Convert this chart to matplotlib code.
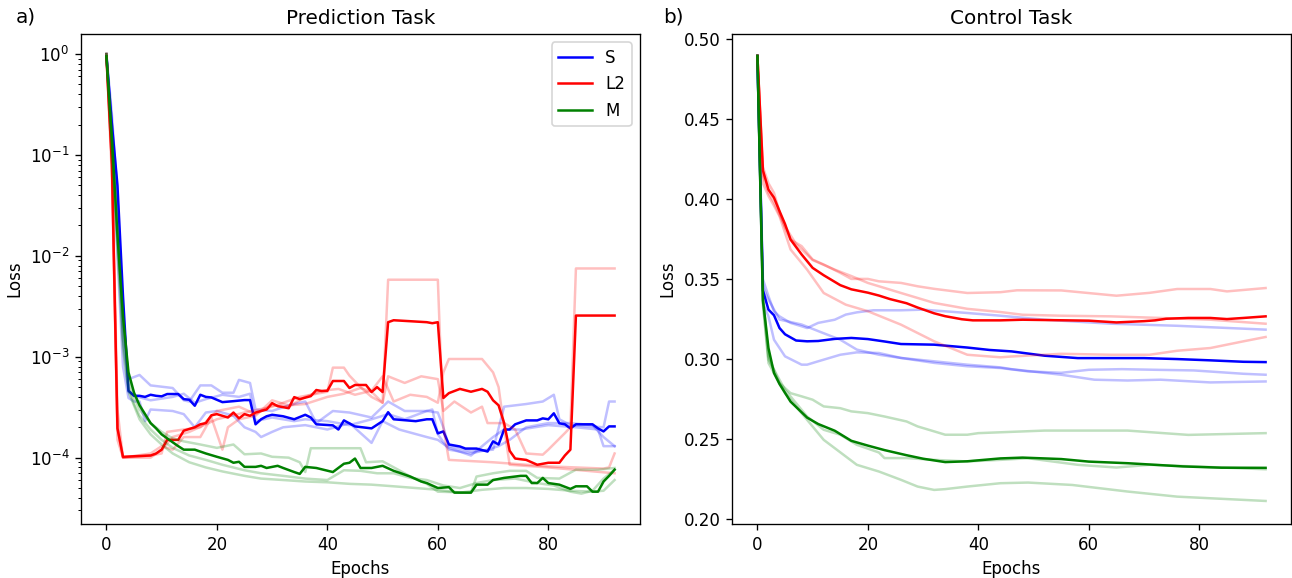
import matplotlib
matplotlib.use("Agg")
import matplotlib.pyplot as plt

# ---- a) Prediction task (log loss), (epoch, loss) pairs ----
pred_S_mean = [(0, 0.95), (1, 0.2), (2, 0.05), (3, 4e-3), (4, 4.6e-4), (5, 4.1e-4), (6, 4.1e-4),
               (7, 4.0e-4), (8, 4.2e-4), (9, 4.1e-4), (10, 4.05e-4), (11, 4.27e-4), (13, 4.27e-4),
               (14, 3.8e-4), (15, 3.75e-4), (16, 3.27e-4), (17, 4.2e-4), (18, 4.0e-4), (19, 3.95e-4),
               (21, 3.55e-4), (23, 3.63e-4), (25, 3.72e-4), (26, 3.72e-4), (27, 2.14e-4), (28, 2.4e-4),
               (29, 2.57e-4), (30, 2.66e-4), (32, 2.57e-4), (34, 2.4e-4), (36, 2.66e-4), (37, 2.5e-4),
               (38, 2.14e-4), (41, 2.09e-4), (42, 1.9e-4), (43, 2.34e-4), (45, 2.04e-4), (48, 1.95e-4),
               (50, 2.3e-4), (51, 2.82e-4), (52, 2.4e-4), (54, 2.35e-4), (56, 2.3e-4), (58, 2.4e-4),
               (59, 2.4e-4), (60, 1.74e-4), (61, 1.82e-4), (62, 1.35e-4), (64, 1.29e-4), (65, 1.23e-4),
               (67, 1.23e-4), (69, 1.15e-4), (70, 1.45e-4), (71, 1.35e-4), (72, 1.9e-4), (73, 1.9e-4),
               (74, 2.14e-4), (76, 2.34e-4), (78, 2.34e-4), (79, 2.45e-4), (80, 2.4e-4), (81, 2.75e-4),
               (82, 2.19e-4), (83, 2.14e-4), (84, 1.95e-4), (85, 2.14e-4), (88, 2.14e-4), (89, 1.95e-4),
               (90, 1.82e-4), (91, 2.04e-4), (92, 2.04e-4)]
pred_S_runs = [
    [(0, 1.0), (1, 0.25), (2, 0.04), (3, 2e-3), (4, 6e-4), (6, 6.6e-4), (8, 5.2e-4), (12, 4.9e-4),
     (14, 3.7e-4), (15, 3.6e-4), (17, 5.2e-4), (19, 5.2e-4), (21, 4.4e-4), (23, 4.4e-4), (24, 5.9e-4),
     (26, 5.5e-4), (27, 3.0e-4), (30, 2.9e-4), (33, 3.3e-4), (36, 3.6e-4), (38, 2.2e-4), (41, 2.9e-4),
     (44, 2.8e-4), (48, 2.5e-4), (51, 3.6e-4), (54, 2.9e-4), (58, 2.9e-4), (60, 2.8e-4), (61, 2.0e-4),
     (62, 1.3e-4), (66, 1.15e-4), (70, 1.2e-4), (72, 3.2e-4), (76, 3.4e-4), (79, 3.6e-4), (81, 4.2e-4),
     (82, 2.4e-4), (84, 2.1e-4), (90, 2.0e-4), (91, 3.6e-4), (92, 3.6e-4)],
    [(0, 1.0), (1, 0.15), (2, 0.01), (3, 8e-4), (4, 3.9e-4), (5, 3.6e-4), (6, 3.6e-4), (7, 2.3e-4),
     (8, 3.0e-4), (12, 2.9e-4), (14, 2.7e-4), (16, 2.0e-4), (18, 2.8e-4), (20, 2.9e-4), (23, 2.6e-4),
     (25, 2.0e-4), (27, 1.8e-4), (28, 1.6e-4), (30, 1.8e-4), (32, 2.0e-4), (36, 2.1e-4), (40, 1.9e-4),
     (44, 2.2e-4), (48, 1.4e-4), (50, 2.3e-4), (53, 1.9e-4), (58, 1.6e-4), (60, 1.5e-4), (62, 1.25e-4),
     (66, 1.05e-4), (70, 1.6e-4), (72, 1.9e-4), (75, 1.9e-4), (80, 2.1e-4), (85, 2.0e-4), (89, 1.9e-4),
     (90, 1.3e-4), (92, 1.3e-4)],
    [(0, 1.0), (1, 0.2), (2, 0.03), (3, 1.5e-3), (4, 4.5e-4), (5, 4.1e-4), (8, 3.7e-4), (12, 4.0e-4),
     (14, 4.3e-4), (16, 3.5e-4), (18, 3.8e-4), (21, 4.2e-4), (24, 4.0e-4), (26, 4.3e-4), (27, 2.3e-4),
     (30, 2.5e-4), (34, 2.3e-4), (36, 2.4e-4), (40, 2.3e-4), (44, 2.1e-4), (48, 2.4e-4), (51, 2.7e-4),
     (54, 2.4e-4), (58, 2.9e-4), (59, 3.0e-4), (60, 1.7e-4), (62, 1.2e-4), (66, 1.1e-4), (69, 1.2e-4),
     (71, 1.3e-4), (73, 1.5e-4), (76, 2.0e-4), (80, 2.2e-4), (84, 2.2e-4), (88, 2.1e-4), (90, 1.6e-4),
     (92, 1.3e-4)],
]

pred_L2_mean = [(0, 0.95), (1, 0.08), (2, 1.95e-4), (3, 1.02e-4), (8, 1.05e-4), (9, 1.1e-4), (10, 1.2e-4),
                (11, 1.5e-4), (13, 1.5e-4), (14, 1.85e-4), (16, 2.0e-4), (17, 2.14e-4), (18, 2.2e-4),
                (19, 2.63e-4), (20, 2.7e-4), (22, 2.5e-4), (23, 2.8e-4), (24, 2.45e-4), (25, 2.7e-4),
                (26, 2.6e-4), (27, 2.8e-4), (29, 3.0e-4), (30, 3.47e-4), (31, 3.24e-4), (33, 3.09e-4),
                (34, 3.98e-4), (35, 3.8e-4), (37, 4.07e-4), (38, 4.68e-4), (39, 4.57e-4), (40, 4.6e-4),
                (41, 5.75e-4), (43, 5.75e-4), (44, 4.9e-4), (45, 5.25e-4), (47, 5.25e-4), (48, 4.47e-4),
                (49, 5.0e-4), (50, 4.47e-4), (51, 2.2e-3), (52, 2.3e-3), (55, 2.25e-3), (58, 2.2e-3),
                (59, 2.15e-3), (60, 2.2e-3), (61, 3.9e-4), (62, 4.36e-4), (64, 4.8e-4), (66, 4.5e-4),
                (68, 4.8e-4), (69, 4.5e-4), (70, 3.7e-4), (71, 3.3e-4), (72, 2.2e-4), (73, 1.17e-4),
                (74, 9.8e-5), (76, 9.5e-5), (78, 8.5e-5), (80, 8.9e-5), (82, 8.9e-5), (83, 1.05e-4),
                (84, 1.2e-4), (85, 2.56e-3), (92, 2.56e-3)]
pred_L2_runs = [
    [(0, 1.0), (1, 0.1), (2, 3e-4), (3, 1.0e-4), (8, 1.0e-4), (10, 1.2e-4), (12, 1.6e-4), (15, 1.8e-4),
     (20, 2.4e-4), (25, 2.8e-4), (30, 3.2e-4), (35, 4.0e-4), (40, 4.5e-4), (41, 7.8e-4), (43, 7.8e-4),
     (44, 6.5e-4), (46, 5e-4), (48, 4e-4), (50, 3.5e-4), (51, 5.8e-3), (60, 5.8e-3), (61, 2e-4),
     (62, 9.5e-5), (70, 9e-5), (80, 8.2e-5), (90, 7.8e-5), (91, 8e-5), (92, 1.1e-4)],
    [(0, 1.0), (1, 0.06), (2, 2e-4), (3, 1.0e-4), (8, 1.05e-4), (10, 1.1e-4), (11, 1.8e-4), (14, 1.9e-4),
     (17, 2.0e-4), (20, 2.9e-4), (24, 3.2e-4), (27, 2.7e-4), (30, 3.3e-4), (33, 3.2e-4), (36, 4.0e-4),
     (39, 4.6e-4), (42, 4.8e-4), (45, 4.2e-4), (48, 4.6e-4), (50, 6.4e-4), (52, 3.6e-4), (55, 4.2e-4),
     (58, 4.0e-4), (60, 3.5e-4), (61, 7e-4), (62, 9.5e-4), (68, 9.5e-4), (70, 7e-4), (71, 5e-4),
     (72, 2e-4), (73, 8.5e-5), (80, 8e-5), (92, 7e-5)],
    [(0, 1.0), (1, 0.08), (2, 1.5e-4), (3, 1.0e-4), (8, 1.1e-4), (10, 1.3e-4), (12, 1.2e-4), (14, 1.6e-4),
     (17, 1.6e-4), (19, 2.5e-4), (21, 1.2e-4), (22, 2.0e-4), (24, 2.4e-4), (27, 2.6e-4), (30, 3.7e-4),
     (33, 3.3e-4), (36, 3.4e-4), (40, 4.0e-4), (43, 4.3e-4), (46, 4.9e-4), (48, 4.5e-4), (50, 3.5e-4),
     (51, 6.4e-4), (54, 5.5e-4), (57, 6.4e-4), (60, 6.0e-4), (61, 2.9e-4), (63, 3.6e-4), (66, 2.8e-4),
     (68, 3.2e-4), (69, 2.2e-4), (72, 2.2e-4), (74, 1.9e-4), (76, 1.1e-4), (79, 1.07e-4), (80, 1.2e-4),
     (83, 1.75e-4), (84, 2.0e-4), (85, 7.5e-3), (92, 7.5e-3)],
]

pred_M_mean = [(0, 0.95), (1, 0.145), (2, 0.016), (3, 2.5e-3), (4, 7e-4), (5, 4.4e-4), (6, 3.3e-4),
               (7, 2.7e-4), (8, 2.2e-4), (9, 1.95e-4), (10, 1.7e-4), (12, 1.42e-4), (13, 1.3e-4),
               (14, 1.2e-4), (16, 1.2e-4), (18, 1.1e-4), (20, 1.02e-4), (22, 9.5e-5), (23, 8.9e-5),
               (24, 9.1e-5), (25, 8.1e-5), (27, 8.1e-5), (28, 8.3e-5), (29, 7.9e-5), (31, 8.3e-5),
               (32, 7.9e-5), (34, 7.2e-5), (35, 6.9e-5), (36, 8.1e-5), (38, 7.9e-5), (41, 7.2e-5),
               (43, 8.7e-5), (44, 8.9e-5), (45, 9.8e-5), (46, 7.9e-5), (48, 7.9e-5), (50, 8.3e-5),
               (52, 7.4e-5), (53, 7.1e-5), (55, 6.5e-5), (57, 5.8e-5), (58, 5.6e-5), (60, 5.0e-5),
               (62, 5.1e-5), (63, 4.5e-5), (66, 4.5e-5), (67, 5.4e-5), (69, 5.4e-5), (70, 6.0e-5),
               (72, 6.3e-5), (75, 6.6e-5), (76, 6.6e-5), (77, 5.6e-5), (78, 5.6e-5), (79, 6.3e-5),
               (80, 5.6e-5), (82, 5.4e-5), (84, 4.9e-5), (85, 5.2e-5), (87, 5.2e-5), (88, 4.6e-5),
               (89, 4.6e-5), (90, 5.8e-5), (91, 6.6e-5), (92, 7.6e-5)]
pred_M_runs = [
    [(0, 1.0), (1, 0.15), (2, 0.02), (3, 2.5e-3), (4, 6e-4), (5, 4e-4), (6, 3e-4), (8, 2.2e-4),
     (10, 1.8e-4), (12, 1.55e-4), (14, 1.45e-4), (17, 1.35e-4), (20, 1.25e-4), (23, 1.35e-4),
     (25, 1.08e-4), (28, 1.1e-4), (30, 1.02e-4), (33, 1.0e-4), (35, 9e-5), (36, 7.2e-5), (37, 1.24e-4),
     (46, 1.24e-4), (47, 9e-5), (50, 9.2e-5), (53, 7.5e-5), (55, 6.5e-5), (58, 5.5e-5), (60, 4.6e-5),
     (66, 4.5e-5), (67, 6.5e-5), (70, 7e-5), (73, 7.4e-5), (76, 7.4e-5), (78, 6.3e-5), (82, 6.2e-5),
     (85, 7.6e-5), (89, 7.6e-5), (92, 7.9e-5)],
    [(0, 1.0), (1, 0.12), (2, 0.015), (3, 1.5e-3), (4, 5e-4), (5, 3.4e-4), (6, 2.6e-4), (8, 1.9e-4),
     (10, 1.5e-4), (12, 1.25e-4), (15, 1.05e-4), (18, 9.5e-5), (21, 8.5e-5), (25, 7.5e-5), (28, 7e-5),
     (32, 6.6e-5), (36, 6.2e-5), (40, 6e-5), (43, 7.5e-5), (46, 7.4e-5), (49, 7.0e-5), (52, 7.0e-5),
     (55, 6.3e-5), (58, 6e-5), (61, 5.3e-5), (64, 5e-5), (67, 5.6e-5), (70, 6.0e-5), (74, 6.2e-5),
     (78, 5.6e-5), (81, 5.3e-5), (84, 4.6e-5), (86, 4.4e-5), (88, 4.7e-5), (90, 6.2e-5), (92, 7.6e-5)],
    [(0, 1.0), (1, 0.1), (2, 0.012), (3, 1.2e-3), (4, 4.5e-4), (6, 2.4e-4), (8, 1.7e-4), (10, 1.35e-4),
     (12, 1.1e-4), (15, 9e-5), (18, 8e-5), (21, 7.3e-5), (25, 6.6e-5), (28, 6.2e-5), (32, 6e-5),
     (36, 5.8e-5), (40, 5.7e-5), (44, 5.5e-5), (48, 5.4e-5), (52, 5.2e-5), (56, 5.0e-5), (60, 4.8e-5),
     (64, 4.5e-5), (68, 4.8e-5), (72, 5.0e-5), (76, 5.0e-5), (80, 4.9e-5), (84, 4.7e-5), (88, 4.6e-5),
     (90, 4.7e-5), (92, 6e-5)],
]

# ---- b) Control task (linear loss) ----
ctrl_S_mean = [(0, 0.4896), (1, 0.343), (2, 0.331), (3, 0.3275), (4, 0.3195), (5, 0.3156), (7, 0.3117),
               (9, 0.3112), (11, 0.3114), (14, 0.3127), (17, 0.3133), (20, 0.3126), (23, 0.3111),
               (26, 0.3095), (32, 0.3091), (38, 0.3073), (42, 0.3058), (46, 0.3049), (52, 0.3022),
               (58, 0.3007), (70, 0.3007), (76, 0.3001), (82, 0.2993), (88, 0.2984), (92, 0.2982)]
ctrl_S_runs = [
    [(0, 0.4896), (1, 0.35), (2, 0.3394), (3, 0.33), (4, 0.3268), (6, 0.3227), (8, 0.3206), (9, 0.3195),
     (11, 0.3227), (14, 0.3247), (16, 0.3279), (18, 0.3293), (21, 0.3306), (26, 0.3306), (30, 0.331),
     (38, 0.3289), (44, 0.3272), (52, 0.3247), (64, 0.3222), (76, 0.3209), (92, 0.3185)],
    [(0, 0.4896), (1, 0.345), (2, 0.3373), (4, 0.3248), (8, 0.3217), (11, 0.3176), (15, 0.3122),
     (18, 0.306), (22, 0.3028), (26, 0.3008), (32, 0.2987), (38, 0.2966), (44, 0.2949), (46, 0.2938),
     (55, 0.2903), (61, 0.2872), (67, 0.2867), (73, 0.2872), (82, 0.2855), (92, 0.2861)],
    [(0, 0.4896), (1, 0.335), (2, 0.3268), (3, 0.3122), (5, 0.3018), (8, 0.2966), (9, 0.2966),
     (11, 0.2987), (15, 0.3028), (18, 0.3043), (22, 0.3039), (26, 0.3008), (32, 0.2977), (38, 0.2956),
     (44, 0.2945), (49, 0.2924), (55, 0.2915), (60, 0.2934), (66, 0.2938), (72, 0.2934), (79, 0.293),
     (88, 0.2909), (92, 0.2903)],
]

ctrl_L2_mean = [(0, 0.4896), (1, 0.418), (2, 0.406), (3, 0.401), (4, 0.3926), (5, 0.3845), (6, 0.3748),
                (8, 0.3655), (10, 0.3571), (12, 0.3525), (15, 0.3463), (17, 0.3437), (20, 0.3416),
                (22, 0.3398), (24, 0.3376), (27, 0.335), (29, 0.3323), (32, 0.3287), (34, 0.3269),
                (37, 0.325), (39, 0.3243), (44, 0.3243), (48, 0.3247), (56, 0.3243), (60, 0.3241),
                (65, 0.323), (70, 0.3238), (72, 0.3243), (74, 0.3253), (78, 0.3258), (82, 0.3258),
                (85, 0.3251), (88, 0.3258), (92, 0.3268)]
ctrl_L2_runs = [
    [(0, 0.4896), (1, 0.420), (2, 0.410), (3, 0.404), (4, 0.392), (5, 0.382), (6, 0.3748), (8, 0.3707),
     (10, 0.3623), (12, 0.3592), (15, 0.354), (17, 0.3502), (20, 0.3502), (22, 0.3487), (26, 0.3477),
     (29, 0.3456), (32, 0.344), (38, 0.3414), (44, 0.3419), (47, 0.3431), (55, 0.343), (65, 0.3397),
     (71, 0.3415), (76, 0.3439), (82, 0.3439), (85, 0.3424), (92, 0.3445)],
    [(0, 0.4896), (1, 0.415), (2, 0.404), (3, 0.398), (4, 0.390), (5, 0.383), (7, 0.372), (10, 0.362),
     (14, 0.356), (17, 0.352), (20, 0.3477), (26, 0.3414), (32, 0.3352), (38, 0.3315), (44, 0.3295),
     (48, 0.3278), (55, 0.3272), (64, 0.3268), (73, 0.3258), (82, 0.3247), (92, 0.3222)],
    [(0, 0.4896), (1, 0.41), (2, 0.402), (3, 0.396), (4, 0.3894), (6, 0.3686), (9, 0.356), (12, 0.3414),
     (16, 0.3341), (20, 0.33), (26, 0.3216), (32, 0.3112), (38, 0.3028), (44, 0.3012), (46, 0.3017),
     (55, 0.3034), (64, 0.3028), (71, 0.3028), (76, 0.3053), (82, 0.307), (88, 0.3112), (92, 0.3139)],
]

ctrl_M_mean = [(0, 0.4896), (1, 0.337), (2, 0.307), (3, 0.2914), (4, 0.2845), (6, 0.2735), (9, 0.2635),
               (11, 0.2595), (14, 0.2553), (17, 0.249), (20, 0.246), (23, 0.2432), (27, 0.24), (30, 0.2378),
               (34, 0.2357), (38, 0.2362), (44, 0.238), (48, 0.2385), (55, 0.2376), (60, 0.236),
               (67, 0.235), (77, 0.233), (84, 0.2322), (92, 0.2321)]
ctrl_M_runs = [
    [(0, 0.4896), (1, 0.34), (2, 0.3018), (4, 0.2851), (6, 0.2788), (8, 0.2768), (10, 0.2747),
     (12, 0.2705), (15, 0.2694), (17, 0.2674), (20, 0.2663), (23, 0.2642), (27, 0.2611), (29, 0.258),
     (32, 0.2549), (34, 0.2528), (38, 0.2528), (40, 0.2538), (52, 0.2554), (67, 0.2554), (78, 0.2527),
     (92, 0.2538)],
    [(0, 0.4896), (1, 0.336), (2, 0.2997), (5, 0.2809), (9, 0.2642), (12, 0.2559), (15, 0.2528),
     (18, 0.2465), (22, 0.2417), (23, 0.2382), (27, 0.2382), (32, 0.2371), (38, 0.2361), (44, 0.2371),
     (49, 0.2381), (58, 0.234), (65, 0.2323), (71, 0.234), (79, 0.233), (92, 0.2312)],
    [(0, 0.4896), (1, 0.334), (2, 0.2976), (5, 0.2788), (9, 0.2621), (12, 0.2496), (16, 0.2392),
     (18, 0.234), (22, 0.2298), (26, 0.2246), (29, 0.2204), (32, 0.2183), (34, 0.2188), (38, 0.2204),
     (44, 0.2225), (49, 0.2229), (57, 0.2214), (67, 0.2173), (76, 0.2141), (92, 0.2114)],
]

methods = ["S", "L2", "M"]
colors = ["blue", "red", "green"]


def draw(ax, pts, color, alpha=1.0, label=None):
    ep, val = zip(*pts)
    ax.plot(ep, val, color=color, alpha=alpha, label=label)


# 1292x578 px, drawn at dpi 120 so default font sizes scale like the original
fig = plt.figure(figsize=(1292 / 120, 578 / 120), dpi=120)
ax1 = fig.add_axes([81 / 1292, 1 - 524 / 578, 559 / 1292, 490 / 578])
ax2 = fig.add_axes([732 / 1292, 1 - 524 / 578, 559 / 1292, 490 / 578])

pred = [(pred_S_runs, pred_S_mean), (pred_L2_runs, pred_L2_mean), (pred_M_runs, pred_M_mean)]
ctrl = [(ctrl_S_runs, ctrl_S_mean), (ctrl_L2_runs, ctrl_L2_mean), (ctrl_M_runs, ctrl_M_mean)]

for (runs, mean), c, name in zip(pred, colors, methods):
    for r in runs:
        draw(ax1, r, c, alpha=0.25)
    draw(ax1, mean, c, label=name)

for (runs, mean), c in zip(ctrl, colors):
    for r in runs:
        draw(ax2, r, c, alpha=0.25)
    draw(ax2, mean, c)

ax1.set_yscale("log")
ax1.set_ylim(2.2e-5, 1.58)
ax2.set_ylim(0.197, 0.5033)

for ax, title in [(ax1, "Prediction Task"), (ax2, "Control Task")]:
    ax.set_title(title)
    ax.set_xlabel("Epochs")
    ax.set_ylabel("Loss")
    ax.set_xticks([0, 20, 40, 60, 80])

ax1.legend(loc="upper right")
fig.text(16 / 1292, 1 - 17 / 578, "a)", fontsize=12, va="center")
fig.text(663 / 1292, 1 - 17 / 578, "b)", fontsize=12, va="center")

fig.savefig("out.png", dpi=120)
